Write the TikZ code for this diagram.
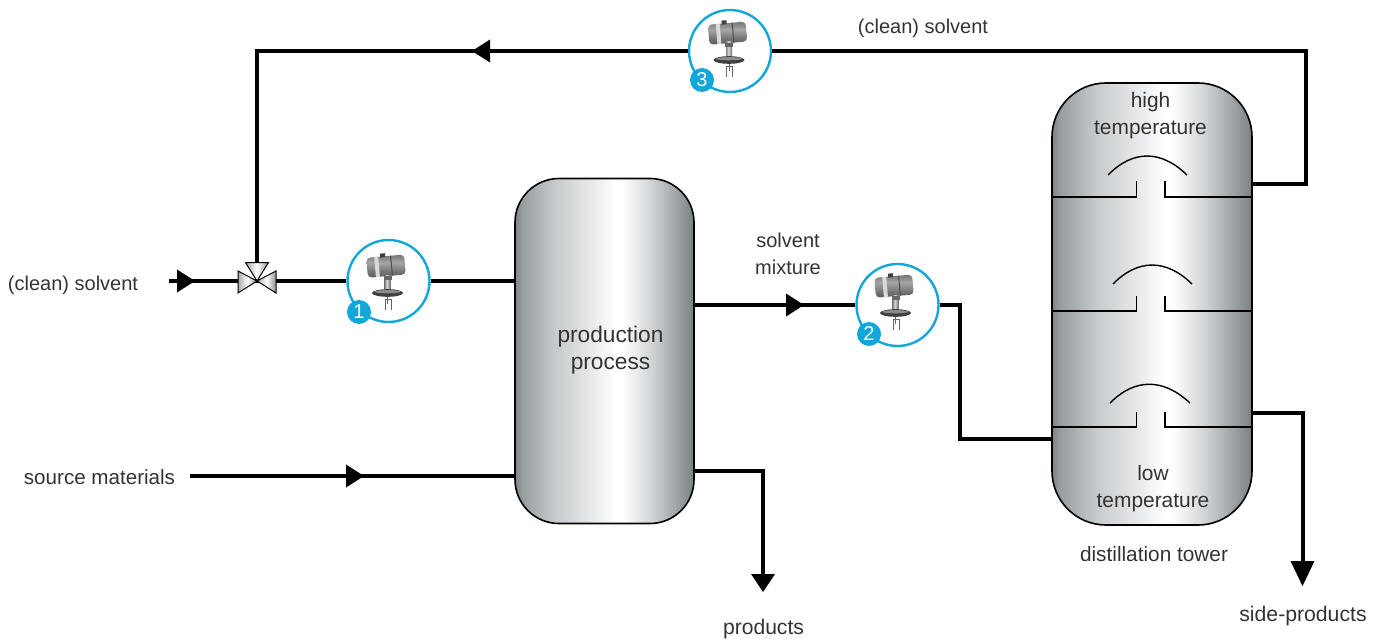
\documentclass[tikz,border=0pt]{standalone}
\usepackage{fontspec}
\setmainfont{Liberation Sans}
\definecolor{tA}{HTML}{7E8487}
\definecolor{tB}{HTML}{989DA0}
\definecolor{tC}{HTML}{C6CACC}
\definecolor{tD}{HTML}{E6E8E9}
\definecolor{tE}{HTML}{D2D5D7}
\definecolor{tF}{HTML}{7A8083}
\definecolor{ringblue}{HTML}{12A7D8}
\definecolor{inktext}{HTML}{333333}
\definecolor{vA}{HTML}{A8A8A8}
\definecolor{vB}{HTML}{8F8F8F}
\definecolor{bA}{HTML}{595959}
\definecolor{bB}{HTML}{737373}
\definecolor{bC}{HTML}{A6A6A6}
\definecolor{sA}{HTML}{808080}
\definecolor{sB}{HTML}{D9D9D9}
\definecolor{sC}{HTML}{666666}
\pgfdeclarehorizontalshading{tankgrad}{100bp}{
  color(0bp)=(tA); color(25bp)=(tA); color(27bp)=(tB); color(36bp)=(tC); color(46bp)=(tD);
  color(53bp)=(white); color(55bp)=(white); color(63bp)=(tE); color(71bp)=(tB); color(75bp)=(tF); color(100bp)=(tF)}
\pgfdeclarehorizontalshading{valvegrad}{100bp}{
  color(0bp)=(vA); color(25bp)=(vA); color(50bp)=(white); color(75bp)=(vB); color(100bp)=(vB)}
\pgfdeclareverticalshading{barrelgrad}{100bp}{
  color(0bp)=(bA); color(25bp)=(bA); color(38bp)=(bB); color(58bp)=(bC); color(75bp)=(bB); color(100bp)=(bB)}
\pgfdeclarehorizontalshading{stemgrad}{100bp}{
  color(0bp)=(sA); color(25bp)=(sA); color(45bp)=(sB); color(75bp)=(sC); color(100bp)=(sC)}
\tikzset{
  x=1pt,y=-1pt,
  pipe/.style={line width=4pt,black,line join=miter},
  tray/.style={line width=1.4pt,black},
  tank/.style={draw=black,line width=1.6pt,shading=tankgrad,inner sep=0pt},
  lbl/.style={text=inktext,font=\fontsize{#1}{27}\selectfont,align=center,inner sep=0pt},
  lbl/.default=20,
  ring/.style={circle,draw=ringblue,fill=white,line width=2.4pt,minimum size=82pt,inner sep=0pt},
  badge/.style={circle,fill=ringblue,text=white,minimum size=24pt,inner sep=0pt,font=\fontsize{20}{20}\selectfont},
  valvepart/.style={draw=black,line width=1pt,shading=valvegrad},
  flowtip/.pic={\fill[black] (0,-11.5) -- (18,0) -- (0,11.5) -- cycle;},
  endtip/.pic={\fill[black] (0,-12) -- (#1,0) -- (0,12) -- cycle;},
}
\newcommand{\gaugehead}[1]{%
  \begin{scope}[shift={(#1)}]
    \begin{scope}[rotate=5]
      \path[shading=barrelgrad,rounded corners=4pt] (-20,-27) rectangle (18,-7);
      \fill[black!15] (-12,-27) rectangle (-8,-7);
      \fill[black!70] (4,-27) rectangle (5,-7);
      \fill[black!75] (-6,-30) rectangle (-1,-26);
    \end{scope}
    \path[shading=stemgrad] (-4,-8) rectangle (2,8);
    \fill[black!60] (-5,-7) rectangle (3,-3);
    \fill[black!75] (-1,10) ellipse [x radius=15.5, y radius=3.8];
    \fill[black!45] (-1,8.7) ellipse [x radius=13, y radius=1.6];
    \draw[black!60,line width=0.9pt] (-3.5,27) -- (-3.5,16) -- (2.5,16) -- (2.5,27);
    \draw[black!60,line width=0.9pt] (-1,14) -- (-1,21);
  \end{scope}}
\begin{document}
\begin{tikzpicture}
\useasboundingbox (0,0) rectangle (1386,639);

% coordinates of free pipe ends and corners
\coordinate (valve) at (257,281);
\coordinate (solventin) at (169,281);
\coordinate (sourcein) at (190,476);
\coordinate (topleft) at (257,51);
\coordinate (topright) at (1306,51);
\coordinate (towerout) at (1306,184);
\coordinate (mixa) at (960,305);
\coordinate (mixb) at (960,439);
\coordinate (proda) at (763,471);
\coordinate (prodb) at (763,576);
\coordinate (sidea) at (1302.5,413);
\coordinate (sideb) at (1302.5,562);
\coordinate (procup) at (695,305);
\coordinate (procin) at (515,281);

% instruments (rings only; details follow)
\node[ring] (instA) at (388.5,281) {};
\node[ring] (instB) at (897.5,305) {};
\node[ring] (instC) at (730,51) {};

% pipes
\draw[pipe] (solventin) -- (valve) -- (instA.west);
\draw[pipe] (instA.east) -- (procin);
\draw[pipe] (sourcein) -- (515,476);
\draw[pipe] (procup) -- (instB.west);
\draw[pipe] (instB.east) -- (mixa) -- (mixb) -- (1052,439);
\draw[pipe] (695,471) -- (proda) -- (prodb);
\draw[pipe] (1252,413) -- (sidea) -- (sideb);
\draw[pipe] (instC.west) -- (topleft) -- (valve);
\draw[pipe] (instC.east) -- (topright) -- (towerout) -- (1252,184);

% vessels
\node[tank,rounded corners=44pt,minimum width=179pt,minimum height=345pt] (proc) at (604.5,351) {};
\node[tank,rounded corners=54pt,minimum width=200pt,minimum height=442pt] (tower) at (1152,304) {};

% trays
\foreach \ty in {197,311,427}{
  \draw[tray] (1052,\ty) -- (1136.5,\ty) -- (1136.5,\ty-15.5);
  \draw[tray] (1252,\ty) -- (1165,\ty) -- (1165,\ty-15.5);
}
\draw[tray] (1108,175) .. controls (1133,149.7) and (1161,149.7) .. (1187,175);
\draw[tray] (1113,284) .. controls (1138,258.7) and (1166,258.7) .. (1192,284);
\draw[tray] (1110,403) .. controls (1135,378) and (1163,378) .. (1190,403);

% valve
\path[valvepart] (valve) -- (238,271) -- (238,293) -- cycle;
\path[valvepart] (valve) -- (276,271) -- (276,293) -- cycle;
\path[valvepart] (valve) -- (245.5,262.5) -- (268.5,262.5) -- cycle;

% flow arrows
\pic at (177,281) {flowtip};
\pic at (346,476) {flowtip};
\pic at (786,305) {flowtip};
\pic[rotate=180] at (490,51) {flowtip};
\pic[rotate=-90] at (763,574) {endtip=18};
\pic[rotate=-90] at (1302.5,561) {endtip=25};

% instrument details
\gaugehead{388.5,283}
\gaugehead{896.5,303}
\gaugehead{730,50}
\node[badge] (numA) at (359,312) {1};
\node[badge] (numB) at (869,334) {2};
\node[badge] (numC) at (702,80) {3};

% labels
\node[lbl] (t1) at (923,28) {(clean) solvent};
\node[lbl] (t2) at (73,285) {(clean) solvent};
\node[lbl=20.6] (t3) at (99.5,477) {source materials};
\node[lbl=22.7] (t4) at (610.5,350) {production\\process};
\node[lbl] (t5) at (788,254) {solvent\\mixture};
\node[lbl=20.9] (t6) at (1150.5,116) {high\\temperature};
\node[lbl=20.9] (t7) at (1153,489) {low\\temperature};
\node[lbl=20.8] (t8) at (1154,554) {distillation tower};
\node[lbl=21.1] (t9) at (763.5,629) {products};
\node[lbl=21.2] (t10) at (1303,616) {side-products};
\end{tikzpicture}
\end{document}
